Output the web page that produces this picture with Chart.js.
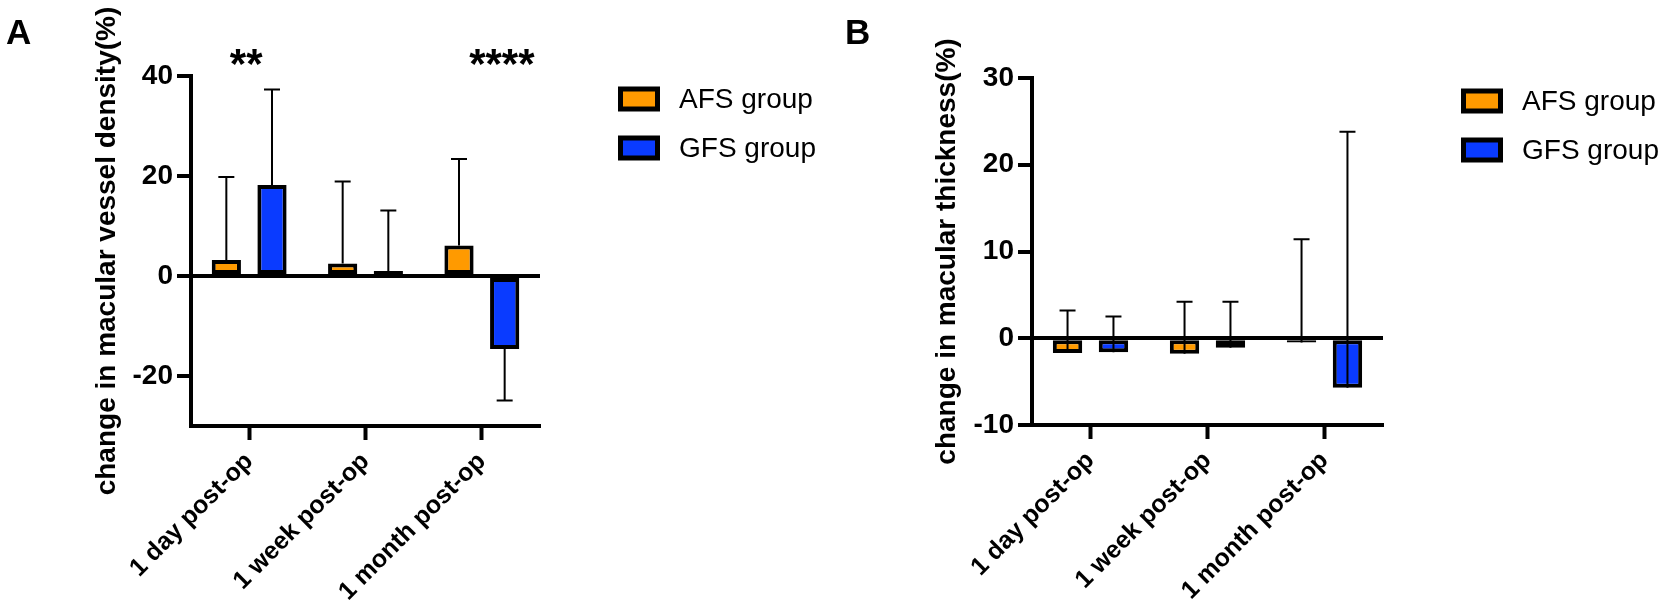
<!DOCTYPE html>
<html>
<head>
<meta charset="utf-8">
<script src="https://cdn.jsdelivr.net/npm/chart.js@4.4.0/dist/chart.umd.min.js"></script>
<style>
html, body { margin: 0; padding: 0; background: #fff; }
#wrap { position: relative; width: 1665px; height: 611px; }
canvas { position: absolute; top: 0; }
#chartA { left: 0; }
#chartB { left: 832px; }
</style>
</head>
<body>
<div id="wrap">
<canvas id="chartA" width="832" height="611"></canvas>
<canvas id="chartB" width="833" height="611"></canvas>
</div>
<script>
var categories = ['1 day post-op', '1 week post-op', '1 month post-op'];
var seriesNames = ['AFS group', 'GFS group'];

// panel A: change in macular vessel density (%), whisker = end value of the error bar
var afsDensity = [3.2, 2.5, 6.1];
var afsDensityErr = [19.8, 18.9, 23.4];
var gfsDensity = [18.2, 1.0, -14.6];
var gfsDensityErr = [37.3, 13.1, -24.9];
var densityTicks = [-20, 0, 20, 40];
var densitySig = ['**', '', '****'];

// panel B: change in macular thickness (%)
var afsThickness = [-1.7, -1.8, -0.5];
var afsThicknessErr = [3.2, 4.2, 11.4];
var gfsThickness = [-1.6, -1.1, -5.7];
var gfsThicknessErr = [2.5, 4.2, 23.8];
var thicknessTicks = [-10, 0, 10, 20, 30];

var orange = '#FF9A00';
var blue = '#0A3BFF';
var font = "'Liberation Sans', Arial, sans-serif";

// whiskers from the bar end to the error end
var errorBars = {
    id: 'errorBars',
    afterDatasetsDraw: function (chart) {
        var ctx = chart.ctx, y = chart.scales.y;
        ctx.save();
        ctx.strokeStyle = '#000';
        ctx.lineWidth = 2;
        chart.data.datasets.forEach(function (ds, i) {
            chart.getDatasetMeta(i).data.forEach(function (bar, j) {
                var y1 = y.getPixelForValue(ds.errEnd[j]);
                ctx.beginPath();
                ctx.moveTo(bar.x, bar.y);
                ctx.lineTo(bar.x, y1);
                ctx.moveTo(bar.x - 8, y1);
                ctx.lineTo(bar.x + 8, y1);
                ctx.stroke();
            });
        });
        ctx.restore();
    }
};

// panel letter, significance stars and the legend
var extras = {
    id: 'extras',
    afterDraw: function (chart) {
        var o = chart.options.plugins.extras;
        var ctx = chart.ctx, area = chart.chartArea, xs = chart.scales.x;
        ctx.save();
        ctx.fillStyle = '#000';
        ctx.font = 'bold 35px ' + font;
        ctx.textAlign = 'left';
        ctx.textBaseline = 'alphabetic';
        ctx.fillText(o.letter, o.letterX, 44);

        if (o.sig) {
            ctx.font = 'bold 42px ' + font;
            ctx.textAlign = 'center';
            o.sig.forEach(function (s, i) {
                if (s) ctx.fillText(s, xs.getPixelForValue(i) + o.sigShift[i], 78);
            });
        }

        var bx = area.right + 78;
        chart.data.datasets.forEach(function (ds, i) {
            var cy = area.top + 23 + i * 49;
            ctx.fillStyle = '#000';
            ctx.fillRect(bx, cy - 12.5, 42, 25);
            ctx.fillStyle = ds.backgroundColor;
            ctx.fillRect(bx + 5, cy - 7.5, 32, 15);
            ctx.fillStyle = '#000';
            ctx.font = '28px ' + font;
            ctx.textAlign = 'left';
            ctx.textBaseline = 'middle';
            ctx.fillText(ds.label, bx + 61, cy + 1);
        });
        ctx.restore();
    }
};

function makeChart(id, o) {
    return new Chart(document.getElementById(id), {
        type: 'bar',
        data: {
            labels: categories,
            datasets: [
                { label: seriesNames[0], data: o.afs, errEnd: o.afsErr, backgroundColor: orange },
                { label: seriesNames[1], data: o.gfs, errEnd: o.gfsErr, backgroundColor: blue }
            ]
        },
        options: {
            responsive: false,
            animation: false,
            devicePixelRatio: 1,
            datasets: {
                bar: {
                    borderColor: '#000',
                    borderWidth: 4,
                    borderSkipped: false,
                    categoryPercentage: 0.785,
                    barPercentage: 0.64
                }
            },
            layout: { padding: { left: 0, top: o.top, right: o.right, bottom: 0 } },
            plugins: {
                legend: { display: false },
                tooltip: { enabled: false },
                extras: { letter: o.letter, letterX: o.letterX, sig: o.sig, sigShift: o.sigShift }
            },
            scales: {
                x: {
                    grid: { display: true, drawOnChartArea: false, offset: false, tickLength: 14, tickWidth: 4, tickColor: '#000' },
                    border: { display: true, color: '#000', width: 4 },
                    ticks: {
                        color: '#000',
                        font: { family: font, size: 25, weight: 'bold' },
                        minRotation: 45,
                        maxRotation: 45,
                        padding: 7,
                        autoSkip: false
                    },
                    afterFit: function (s) { s.height = 611 - o.bottom; }
                },
                y: {
                    min: o.min,
                    max: o.max,
                    afterBuildTicks: function (s) {
                        s.ticks = o.ticks.map(function (v) { return { value: v }; });
                    },
                    grid: {
                        color: function (c) { return c.tick && c.tick.value === 0 ? '#000' : 'rgba(0,0,0,0)'; },
                        lineWidth: 4,
                        tickLength: 14,
                        tickWidth: 4,
                        tickColor: '#000'
                    },
                    border: { display: true, color: '#000', width: 4 },
                    ticks: { color: '#000', font: { family: font, size: 28, weight: 'bold' }, padding: 4 },
                    title: {
                        display: true,
                        text: o.title,
                        color: '#000',
                        font: { family: font, size: 28, weight: 'bold' },
                        padding: { top: o.titlePad, bottom: 0 }
                    },
                    afterFit: function (s) { s.width = o.left; }
                }
            }
        },
        plugins: [errorBars, extras]
    });
}

var chartA = makeChart('chartA', {
    afs: afsDensity, afsErr: afsDensityErr,
    gfs: gfsDensity, gfsErr: gfsDensityErr,
    min: -30, max: 40, ticks: densityTicks,
    title: 'change in macular vessel density(%)',
    left: 191, top: 76, right: 292, bottom: 426, titlePad: 90,
    letter: 'A', letterX: 6, sig: densitySig, sigShift: [-3, 0, 20]
});

var chartB = makeChart('chartB', {
    afs: afsThickness, afsErr: afsThicknessErr,
    gfs: gfsThickness, gfsErr: gfsThicknessErr,
    min: -10, max: 30, ticks: thicknessTicks,
    title: 'change in macular thickness(%)',
    left: 200, top: 78, right: 282, bottom: 425, titlePad: 98,
    letter: 'B', letterX: 13, sig: null, sigShift: null
});
</script>
</body>
</html>
